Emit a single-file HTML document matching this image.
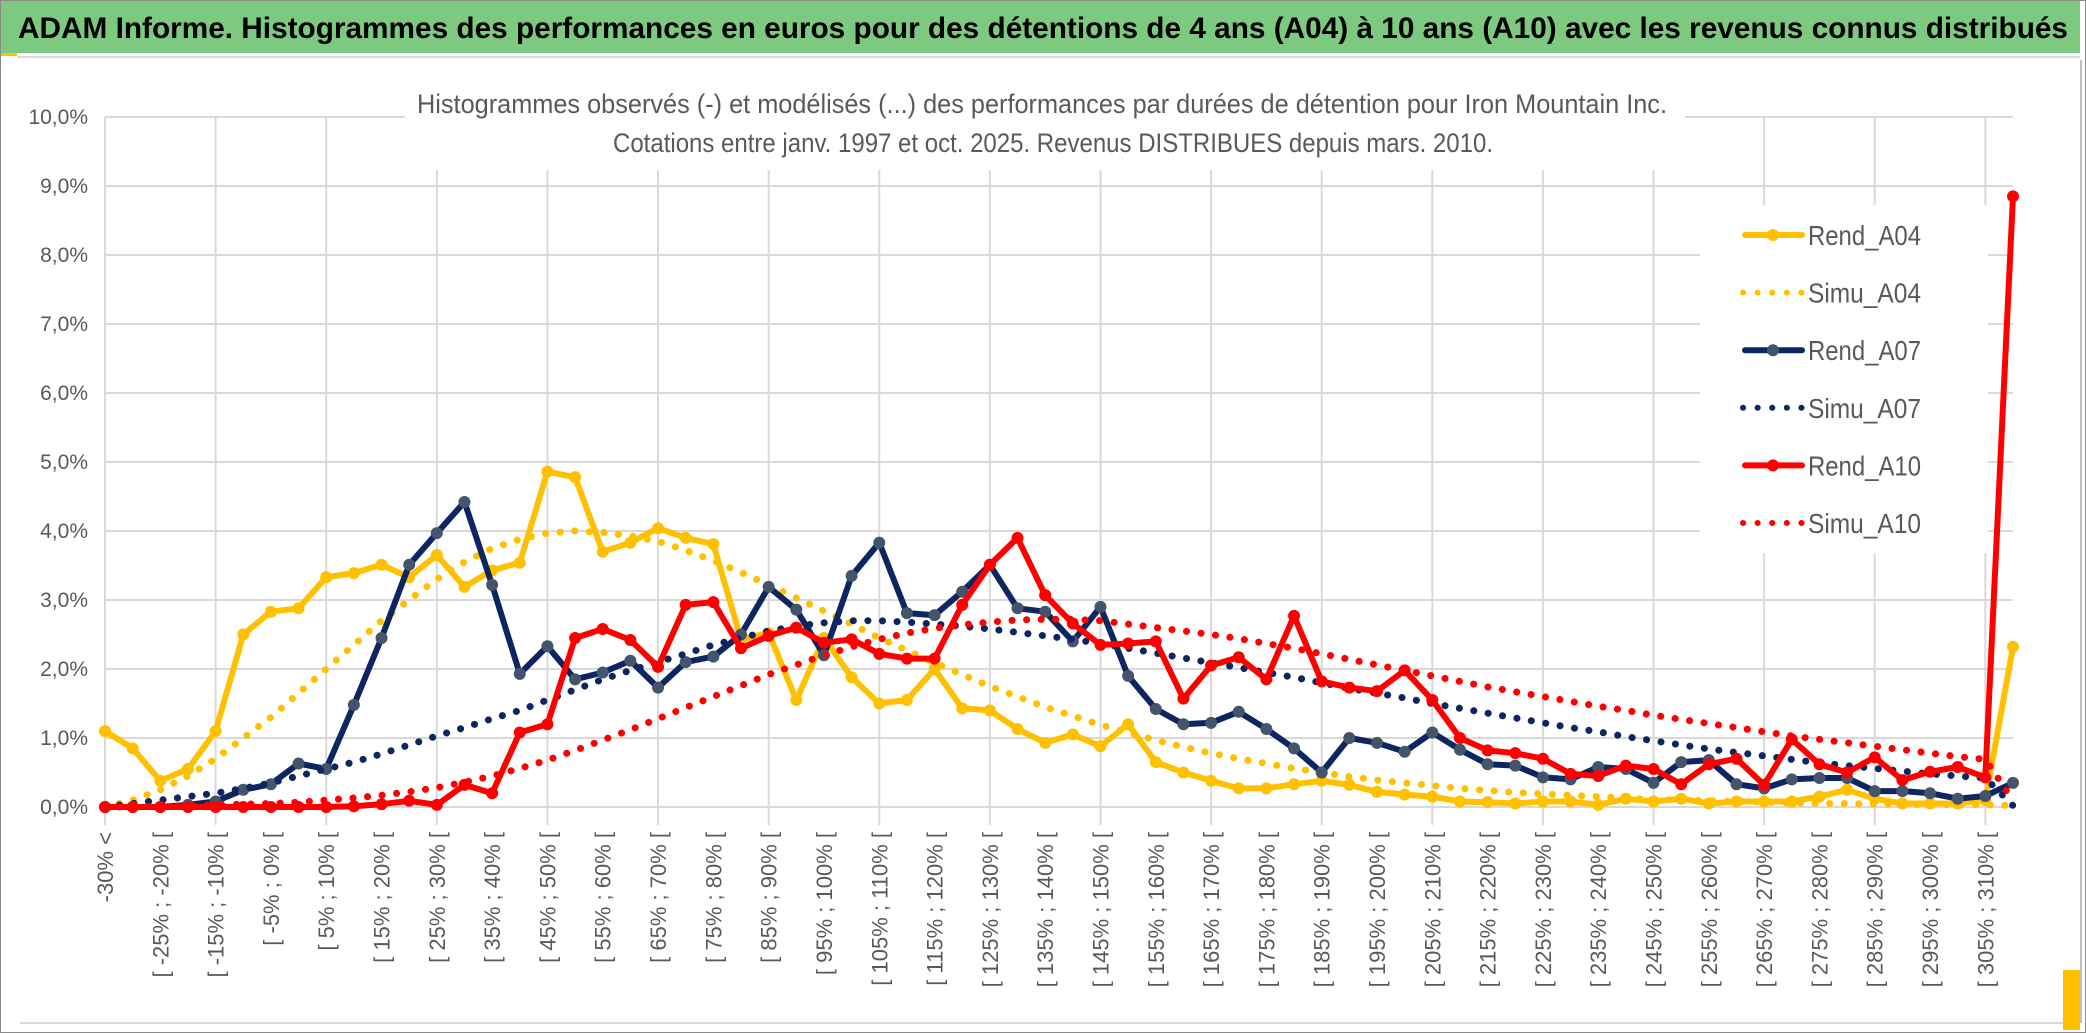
<!DOCTYPE html>
<html><head><meta charset="utf-8"><style>
html,body{margin:0;padding:0;background:#fff;}
svg{display:block;font-family:"Liberation Sans",sans-serif;}
</style></head><body>
<svg id="chart" width="2086" height="1033" viewBox="0 0 2086 1033" xmlns="http://www.w3.org/2000/svg">
<rect x="0.5" y="0.5" width="2085" height="1032" fill="#fff" stroke="#8a8a8a"/>
<rect x="1" y="1" width="2084" height="52" fill="#7DC97F"/>
<rect x="1" y="53" width="16" height="3" fill="#FFC000"/>
<line x1="17" y1="57" x2="2085" y2="57" stroke="#d9d9d9" stroke-width="2"/>
<text x="18" y="38" font-size="30" font-weight="bold" fill="#000" textLength="2050" lengthAdjust="spacingAndGlyphs" font-family="Liberation Sans Narrow, Liberation Sans, sans-serif">ADAM Informe. Histogrammes des performances en euros pour des détentions de 4 ans (A04) à 10 ans (A10) avec les revenus connus distribués</text>
<g id="grid"></g>
<rect x="405" y="78" width="1280" height="92" fill="#fff"/>
<text x="1042" y="113" font-size="27" fill="#595959" text-anchor="middle" textLength="1250" lengthAdjust="spacingAndGlyphs" font-family="Liberation Sans Narrow, Liberation Sans, sans-serif">Histogrammes observés (-) et modélisés (...) des performances par durées de détention pour Iron Mountain Inc.</text>
<text x="1053" y="152" font-size="27" fill="#595959" text-anchor="middle" textLength="880" lengthAdjust="spacingAndGlyphs" font-family="Liberation Sans Narrow, Liberation Sans, sans-serif">Cotations entre janv. 1997 et oct. 2025. Revenus DISTRIBUES depuis mars. 2010.</text>
<g id="yaxis"></g>
<g id="xaxis"></g>
<g id="series"></g>
<rect x="1700" y="205" width="288" height="348" fill="#fff"/>
<g id="legend"></g>
<line x1="20" y1="1023" x2="2082" y2="1023" stroke="#d9d9d9" stroke-width="2"/>
<rect x="2063" y="970" width="20" height="60" fill="#FFC000"/>
<rect x="2080" y="1" width="5" height="1031" fill="#fff"/>
<line x1="2081" y1="60" x2="2081" y2="1023" stroke="#bfbfbf" stroke-width="2"/>
</svg>
<script>
const categories = ["-30% <","[ -30% ; -25% [","[ -25% ; -20% [","[ -20% ; -15% [","[ -15% ; -10% [","[ -10% ; -5% [","[ -5% ; 0% [","[ 0% ; 5% [","[ 5% ; 10% [","[ 10% ; 15% [",
"[ 15% ; 20% [","[ 20% ; 25% [","[ 25% ; 30% [","[ 30% ; 35% [","[ 35% ; 40% [","[ 40% ; 45% [","[ 45% ; 50% [","[ 50% ; 55% [","[ 55% ; 60% [","[ 60% ; 65% [",
"[ 65% ; 70% [","[ 70% ; 75% [","[ 75% ; 80% [","[ 80% ; 85% [","[ 85% ; 90% [","[ 90% ; 95% [","[ 95% ; 100% [","[ 100% ; 105% [","[ 105% ; 110% [","[ 110% ; 115% [",
"[ 115% ; 120% [","[ 120% ; 125% [","[ 125% ; 130% [","[ 130% ; 135% [","[ 135% ; 140% [","[ 140% ; 145% [","[ 145% ; 150% [","[ 150% ; 155% [","[ 155% ; 160% [","[ 160% ; 165% [",
"[ 165% ; 170% [","[ 170% ; 175% [","[ 175% ; 180% [","[ 180% ; 185% [","[ 185% ; 190% [","[ 190% ; 195% [","[ 195% ; 200% [","[ 200% ; 205% [","[ 205% ; 210% [","[ 210% ; 215% [",
"[ 215% ; 220% [","[ 220% ; 225% [","[ 225% ; 230% [","[ 230% ; 235% [","[ 235% ; 240% [","[ 240% ; 245% [","[ 245% ; 250% [","[ 250% ; 255% [","[ 255% ; 260% [","[ 260% ; 265% [",
"[ 265% ; 270% [","[ 270% ; 275% [","[ 275% ; 280% [","[ 280% ; 285% [","[ 285% ; 290% [","[ 290% ; 295% [","[ 295% ; 300% [","[ 300% ; 305% [","[ 305% ; 310% [","310% >"];
const yTicks = [0,1,2,3,4,5,6,7,8,9,10];
const yTickLabels = ["0,0%","1,0%","2,0%","3,0%","4,0%","5,0%","6,0%","7,0%","8,0%","9,0%","10,0%"];
const rendA04 = [1.1,0.85,0.38,0.55,1.1,2.5,2.83,2.88,3.33,3.39,
3.51,3.33,3.65,3.19,3.43,3.54,4.86,4.78,3.70,3.83,
4.04,3.90,3.81,2.43,2.52,1.55,2.45,1.88,1.5,1.55,
2.0,1.43,1.4,1.13,0.93,1.05,0.88,1.2,0.65,0.5,
0.38,0.27,0.27,0.33,0.38,0.32,0.22,0.18,0.15,0.08,
0.07,0.05,0.08,0.08,0.03,0.12,0.08,0.12,0.05,0.08,
0.08,0.08,0.15,0.25,0.12,0.05,0.05,0.05,0.1,2.32];
const simuA04 = [0,0.1,0.25,0.45,0.7,1.0,1.3,1.65,2.0,2.35,
2.7,3.0,3.3,3.55,3.75,3.88,3.97,4.0,3.98,3.93,
3.85,3.72,3.57,3.4,3.22,3.03,2.84,2.65,2.45,2.27,
2.09,1.92,1.75,1.6,1.45,1.32,1.19,1.08,0.97,0.87,
0.78,0.7,0.63,0.56,0.5,0.44,0.39,0.35,0.31,0.27,
0.24,0.21,0.19,0.17,0.15,0.13,0.11,0.1,0.09,0.08,
0.07,0.06,0.05,0.05,0.04,0.04,0.03,0.03,0.03,0.02];
const rendA07 = [0,0,0,0.03,0.08,0.25,0.33,0.63,0.55,1.48,
2.45,3.51,3.97,4.42,3.22,1.93,2.33,1.85,1.95,2.12,
1.73,2.1,2.18,2.5,3.19,2.86,2.2,3.35,3.83,2.81,
2.78,3.12,3.51,2.88,2.83,2.4,2.9,1.9,1.42,1.2,
1.22,1.38,1.13,0.85,0.5,1.0,0.93,0.8,1.08,0.83,
0.62,0.6,0.43,0.4,0.58,0.55,0.35,0.65,0.68,0.33,
0.27,0.4,0.42,0.42,0.23,0.23,0.2,0.12,0.16,0.35];
const simuA07 = [0,0.05,0.1,0.15,0.2,0.27,0.35,0.45,0.55,0.65,
0.77,0.9,1.03,1.15,1.28,1.4,1.55,1.7,1.85,1.98,
2.1,2.22,2.35,2.45,2.55,2.62,2.67,2.7,2.7,2.68,
2.65,2.62,2.58,2.53,2.48,2.43,2.37,2.3,2.23,2.16,
2.09,2.02,1.95,1.88,1.8,1.72,1.65,1.58,1.5,1.43,
1.36,1.29,1.22,1.15,1.09,1.02,0.96,0.9,0.84,0.79,
0.74,0.69,0.64,0.6,0.56,0.52,0.48,0.45,0.42,0.02];
const rendA10 = [0,0,0,0,0,0,0,0,0,0.01,
0.04,0.09,0.03,0.32,0.2,1.08,1.2,2.45,2.58,2.42,
2.03,2.93,2.97,2.3,2.48,2.6,2.38,2.43,2.22,2.15,
2.15,2.93,3.51,3.9,3.07,2.66,2.35,2.37,2.4,1.57,
2.05,2.17,1.85,2.77,1.82,1.73,1.68,1.98,1.55,1.0,
0.82,0.78,0.7,0.48,0.45,0.6,0.55,0.33,0.62,0.7,
0.32,0.98,0.62,0.5,0.72,0.39,0.51,0.58,0.43,8.85];
const simuA10 = [0,0,0.01,0.02,0.03,0.04,0.05,0.07,0.1,0.13,
0.17,0.22,0.28,0.36,0.45,0.56,0.68,0.82,0.97,1.12,
1.28,1.44,1.6,1.76,1.92,2.06,2.2,2.32,2.43,2.52,
2.59,2.64,2.68,2.71,2.72,2.72,2.7,2.65,2.6,2.55,
2.5,2.44,2.37,2.3,2.22,2.14,2.06,1.98,1.9,1.82,
1.74,1.67,1.6,1.53,1.46,1.4,1.33,1.27,1.21,1.15,
1.09,1.03,0.98,0.93,0.88,0.83,0.78,0.73,0.69,0.1];
const seriesNames = ["Rend_A04","Simu_A04","Rend_A07","Simu_A07","Rend_A10","Simu_A10"];

const NS = "http://www.w3.org/2000/svg";
const X0 = 105, X1 = 2013, Y0 = 807, Y1 = 117;
function xScale(i){ return X0 + i * (X1 - X0) / (categories.length - 1); }
function yScale(v){ return Y0 - (v / 10) * (Y0 - Y1); }
function mk(tag, attrs, parent){ const e = document.createElementNS(NS, tag); for (const k in attrs) e.setAttribute(k, attrs[k]); parent.appendChild(e); return e; }

const grid = document.getElementById('grid');
yTicks.forEach((t) => {
  const l = mk('line', {x1: X0, x2: X1, y1: yScale(t), y2: yScale(t), stroke: '#d9d9d9', 'stroke-width': 2}, grid);
  
  
});
categories.forEach((c, i) => {
  if (i % 4 !== 0) return;
  const l = mk('line', {x1: xScale(i), x2: xScale(i), y1: Y1, y2: Y0 + 18, stroke: '#d9d9d9', 'stroke-width': 2}, grid);
  
  
});

const yax = document.getElementById('yaxis');
yTicks.forEach((t, k) => {
  const tx = mk('text', {x: 88, y: yScale(t) + 7, 'font-size': 21, fill: '#595959', 'text-anchor': 'end'}, yax);
  tx.textContent = yTickLabels[k];
  
  
});

const xax = document.getElementById('xaxis');
categories.forEach((c, i) => {
  if (i % 2 !== 0 || i === categories.length - 1) return;
  const x = xScale(i) + 8, y = 832;
  const tx = mk('text', {x: x, y: y, 'font-size': 22, fill: '#595959', 'text-anchor': 'end', transform: 'rotate(-90 ' + x + ' ' + y + ')'}, xax);
  tx.textContent = c;
  
  
});

const layer = document.getElementById('series');
function pts(arr){ return arr.map((v, i) => xScale(i).toFixed(1) + ',' + yScale(v).toFixed(1)).join(' '); }
function solid(arr, color, mcolor, name){
  const g = mk('g', {}, layer);
  
  
  const p = mk('polyline', {points: pts(arr), fill: 'none', stroke: color, 'stroke-width': 6, 'stroke-linejoin': 'round', 'stroke-linecap': 'round'}, g);
  
  
  arr.forEach((v, i) => {
    const c = mk('circle', {cx: xScale(i), cy: yScale(v), r: 6, fill: mcolor}, g);
    
    
  });
}
function dotted(arr, color, name){
  const p = mk('polyline', {points: pts(arr), fill: 'none', stroke: color, 'stroke-width': 7, 'stroke-linecap': 'round', 'stroke-dasharray': '0.1 14.5'}, layer);
  
  
}
solid(rendA04, '#FFC000', '#FFC000', 'rend-a04');
dotted(simuA04, '#FFC000', 'simu-a04');
solid(rendA07, '#0D2560', '#44546A', 'rend-a07');
dotted(simuA07, '#0D2560', 'simu-a07');
solid(rendA10, '#FF0000', '#FF0000', 'rend-a10');
dotted(simuA10, '#FF0000', 'simu-a10');

const leg = document.getElementById('legend');
const legColors = ['#FFC000','#FFC000','#0D2560','#0D2560','#FF0000','#FF0000'];
const legMarker = ['#FFC000',null,'#44546A',null,'#FF0000',null];
seriesNames.forEach((n, k) => {
  const y = 235 + k * 57.6;
  const g = mk('g', {}, leg);
  
  
  if (legMarker[k]) {
    mk('line', {x1: 1745, x2: 1802, y1: y, y2: y, stroke: legColors[k], 'stroke-width': 6, 'stroke-linecap': 'round'}, g);
    mk('circle', {cx: 1773, cy: y, r: 6, fill: legMarker[k]}, g);
  } else {
    mk('line', {x1: 1743, x2: 1802, y1: y, y2: y, stroke: legColors[k], 'stroke-width': 6, 'stroke-linecap': 'round', 'stroke-dasharray': '0.1 14.5'}, g);
  }
  const t = mk('text', {x: 1808, y: y + 10, 'font-size': 28, fill: '#595959', textLength: 113, lengthAdjust: 'spacingAndGlyphs', 'font-family': 'Liberation Sans Narrow, Liberation Sans, sans-serif'}, g);
  t.textContent = n;
});
</script>
</body></html>
